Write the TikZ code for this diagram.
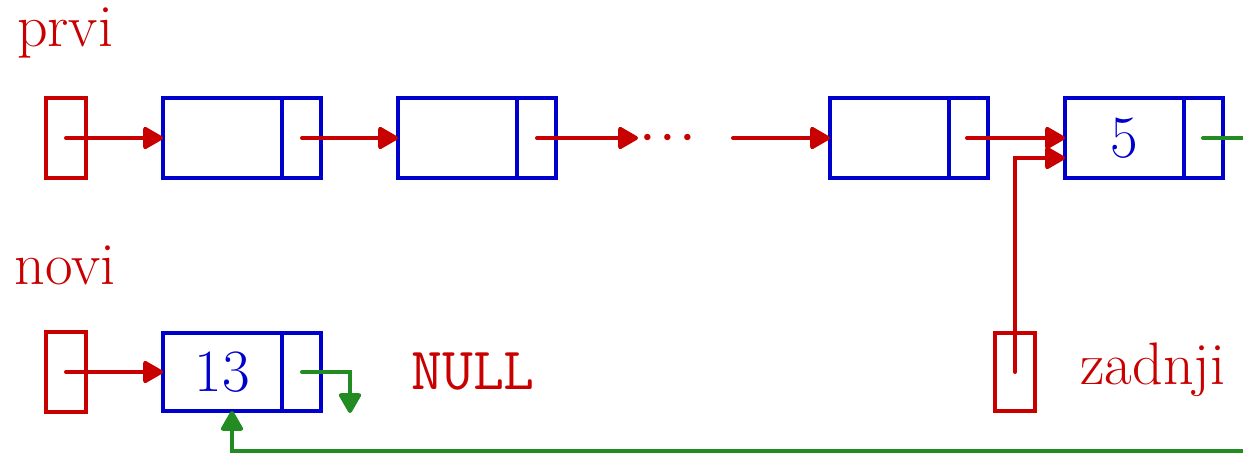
\documentclass[tikz,border=0pt]{standalone}
\usepackage{fontspec}
\usepackage{unicode-math}
\usetikzlibrary{arrows.meta}
\definecolor{myred}{RGB}{200,0,0}
\definecolor{myblue}{RGB}{0,0,204}
\definecolor{mygreen}{RGB}{34,139,34}
\begin{document}
\begin{tikzpicture}[x=1pt,y=-1pt,
  every node/.style={font=\fontsize{60}{66}\selectfont, inner sep=0pt},
  cell/.style={draw=myblue, line width=4pt, rectangle, minimum width=158pt, minimum height=80pt, inner sep=0pt, outer sep=0pt},
  ptr/.style={draw=myred, line width=4pt, rectangle, minimum width=40pt, minimum height=80pt, inner sep=0pt, outer sep=0pt},
  lbl/.style={text=myred},
  link/.style={myred, line width=4pt, line cap=round, -{Triangle[round,length=22pt,width=24pt]}},
  glink/.style={mygreen, line width=4pt, line cap=round, -{Triangle[round,length=22pt,width=24pt]}},
  divider/.style={myblue, line width=4pt}
]
\useasboundingbox (0,0) rectangle (1243,454);
\begin{scope}
\clip (0,0) rectangle (1243,454);
% labels
\node[lbl] (prvi) at (65,33) {prvi};
\node[lbl] (novi) at (65,265) {novi};
\node[lbl] (zadnjil) at (1153,370) {zadnji};
\node[lbl] (null) at (473,372) {\ttfamily NULL};
% pointer boxes
\node[ptr] (p1) at (66,138) {};
\node[ptr] (p2) at (66,372) {};
\node[ptr, minimum height=78pt] (pz) at (1015,372) {};
% cells
\node[cell] (c1) at (242,138) {};
\node[cell] (c2) at (477,138) {};
\node[cell] (c3) at (909,138) {};
\node[cell] (c4) at (1144,138) {};
\node[cell, minimum height=78pt] (cn) at (242,372) {};
% dividers
\foreach \c in {c1,c2,c3,c4,cn}{
  \draw[divider] ([xshift=-39pt]\c.north east) -- ([xshift=-39pt]\c.south east);
}
% values
\node[text=myblue] (v5) at (1124,138) {5};
\node[text=myblue] (v13) at (222,372) {13};
% dots
\node[text=myred, anchor=base] (dots) at (668,153) {$\mathord{\cdot}\hspace{3.3pt}\mathord{\cdot}\hspace{3.3pt}\mathord{\cdot}$};
\coordinate (dotsin) at (638,138);
\coordinate (dotsout) at (733,138);
% pointer coordinates
\coordinate (s1) at (66,138);
\coordinate (s2) at (302,138);
\coordinate (s3) at (537,138);
\coordinate (s4) at (967,138);
\coordinate (s5) at (1203,138);
\coordinate (sn) at (66,372);
\coordinate (snn) at (302,372);
\coordinate (sz) at (1015,372);
\coordinate (bend) at (1015,158);
\coordinate (gend) at (1260,138);
\coordinate (gr) at (1260,451);
\coordinate (gl) at (232,451);
% links
\draw[link] (s1) -- (c1.west);
\draw[link] (s2) -- (c2.west);
\draw[link] (s3) -- (dotsin);
\draw[link] (dotsout) -- (c3.west);
\draw[link] (s4) -- (c4.west);
\draw[link] (sz) -- (bend) -- (c4.west |- bend);
\draw[link] (sn) -- (cn.west);
\draw[mygreen, line width=4pt, line cap=round] (s5) -- (gend);
\draw[glink] (snn) -- (350,372) -- (350,413);
\draw[glink] (gr) -- (gl) -- (gl |- cn.south);
\end{scope}
\end{tikzpicture}
\end{document}
